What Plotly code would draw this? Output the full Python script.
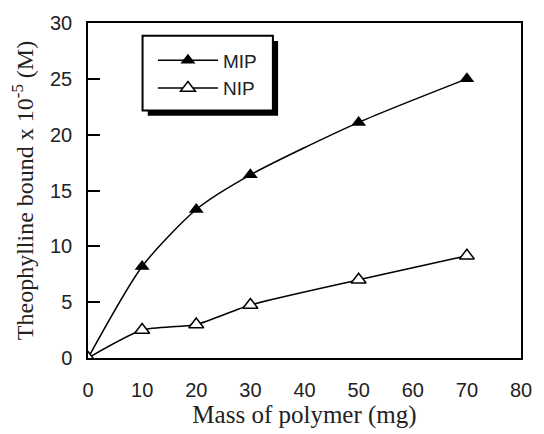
import plotly.graph_objects as go

mass = [0, 10, 20, 30, 50, 70]
mip = [0, 8.2, 13.3, 16.4, 21.1, 25.0]
nip = [0, 2.5, 3.0, 4.75, 7.0, 9.15]

xticks = [0, 10, 20, 30, 40, 50, 60, 70, 80]
yticks = [0, 5, 10, 15, 20, 25, 30]

fig = go.Figure()
fig.add_trace(go.Scatter(x=mass, y=mip, name="MIP", mode="lines+markers",
                         line=dict(color="black", width=1.5, shape="spline", smoothing=0.7),
                         marker=dict(symbol="triangle-up", size=13, color="black")))
fig.add_trace(go.Scatter(x=mass, y=nip, name="NIP", mode="lines+markers",
                         line=dict(color="black", width=1.5, shape="spline", smoothing=0.6),
                         marker=dict(symbol="triangle-up", size=13, color="white",
                                     line=dict(color="black", width=1.5))))

axis_common = dict(showgrid=False, zeroline=False, showline=True, linecolor="black",
                   linewidth=1.5, mirror=True)

fig.update_xaxes(range=[0, 80], tickvals=xticks, ticks="", ticklabelstandoff=13,
                 tickfont=dict(family="Liberation Sans, Arial", size=20, color="#222"),
                 title=dict(text="Mass of polymer (mg)", standoff=4,
                            font=dict(family="Liberation Serif, Times New Roman", size=25, color="#222")),
                 **axis_common)
fig.update_yaxes(range=[0, 30], tickvals=yticks, ticks="inside", ticklen=12, tickwidth=1.5,
                 tickcolor="black", ticklabelstandoff=10,
                 tickfont=dict(family="Liberation Sans, Arial", size=20, color="#222"),
                 title=dict(text="Theophylline bound x 10<sup>-5</sup> (M)", standoff=10,
                            font=dict(family="Liberation Serif, Times New Roman", size=24, color="#222")),
                 **axis_common)

bx0, bx1, by0, by1 = 0.126, 0.427, 0.739, 0.962
fig.add_shape(type="rect", xref="paper", yref="paper", x0=bx0 + 0.012, x1=bx1 + 0.012,
              y0=by0 - 0.016, y1=by1 - 0.016, fillcolor="black", line=dict(width=0))
fig.add_shape(type="rect", xref="paper", yref="paper", x0=bx0, x1=bx1, y0=by0, y1=by1,
              fillcolor="white", line=dict(color="black", width=2))

fig.update_layout(
    width=544, height=434,
    margin=dict(l=88, r=13, t=17, b=76),
    plot_bgcolor="white", paper_bgcolor="white",
    showlegend=True,
    legend=dict(x=0.15, y=0.945, xanchor="left", yanchor="top", bgcolor="rgba(0,0,0,0)",
                borderwidth=0, font=dict(family="Liberation Sans, Arial", size=19, color="#222"),
                tracegroupgap=0, itemwidth=60),
)

fig.write_html("out.html")
